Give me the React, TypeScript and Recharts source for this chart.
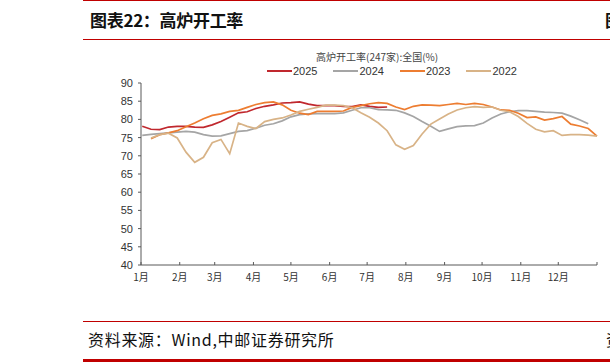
import React from 'react';
import { LineChart, Line, XAxis, YAxis } from 'recharts';

// weekly observations, one point per week (day-of-year of the week)
const weekDays = Array.from({ length: 53 }, (_, i) => 1 + 7 * i);

const monthTicks = [0, 31, 59, 90, 120, 151, 181, 212, 243, 273, 304, 334, 365];
const monthLabels = ['1月', '2月', '3月', '4月', '5月', '6月', '7月', '8月', '9月', '10月', '11月', '12月', ''];
const yTicks = [40, 45, 50, 55, 60, 65, 70, 75, 80, 85, 90];

const rate2025 = [
  78.1, 77.3, 77.2, 77.9, 78.1, 78.1, 77.9, 77.8, 78.5, 79.4,
  80.6, 81.8, 82.1, 83.0, 83.6, 84.0, 84.5, 84.6, 84.8, 84.2,
  83.8, 83.8, 83.8, 83.6, 83.5, 84.0, 83.6, 83.3, 83.4,
];
const rate2024 = [
  75.6, 75.9, 76.1, 76.3, 76.5, 76.7, 76.5, 75.8, 75.4, 75.5,
  76.1, 76.7, 76.9, 77.6, 78.4, 78.8, 79.6, 80.7, 81.3, 81.5,
  81.6, 81.6, 81.6, 81.8, 82.5, 83.2, 83.2, 82.7, 82.6, 82.5,
  81.8, 80.8, 79.4, 78.1, 76.7, 77.4, 78.0, 78.2, 78.3, 79.0,
  80.4, 81.5, 82.1, 82.4, 82.4, 82.2, 82.0, 81.9, 81.7, 80.9,
  79.9, 78.8, null,
];
const rate2023 = [
  null, 74.7, 75.8, 76.3, 76.9, 78.0, 79.0, 80.2, 81.1, 81.5,
  82.2, 82.5, 83.3, 84.1, 84.6, 84.8, 84.0, 82.5, 81.7, 81.3,
  82.2, 82.2, 82.2, 82.3, 83.3, 83.8, 84.3, 84.6, 84.4, 83.4,
  82.7, 83.6, 84.0, 83.9, 83.8, 84.1, 84.4, 84.1, 84.4, 84.1,
  83.4, 82.6, 82.5, 81.7, 80.5, 80.7, 79.8, 80.2, 80.8, 78.7,
  78.2, 77.5, 75.4,
];
const rate2022 = [
  null, 74.9, 75.8, 76.2, 74.9, 71.0, 68.2, 69.6, 73.6, 74.5,
  70.6, 79.0, 78.1, 77.5, 79.4, 80.0, 80.4, 81.2, 82.2, 82.8,
  83.3, 83.9, 83.9, 83.8, 83.2, 81.8, 80.6, 79.0, 76.9, 73.0,
  71.8, 72.8, 76.0, 78.7, 80.1, 81.5, 82.6, 83.2, 83.5, 83.3,
  83.4, 82.5, 82.1, 80.8, 78.9, 77.3, 76.6, 76.9, 75.6, 75.8,
  75.8, 75.7, 75.4,
];

const series = [
  { key: 'y2025', name: '2025', values: rate2025, color: '#C0282E' },
  { key: 'y2024', name: '2024', values: rate2024, color: '#A5A5A5' },
  { key: 'y2023', name: '2023', values: rate2023, color: '#ED7D31' },
  { key: 'y2022', name: '2022', values: rate2022, color: '#D8B387' },
];

const chartData = weekDays.map((day, i) => {
  const row: Record<string, number | null> = { day };
  series.forEach(s => {
    row[s.key] = s.values[i] ?? null;
  });
  return row;
});

const axisColor = '#595959';
const RED = '#C00000';

const MonthTick = (props: any) => {
  const { x, y, payload } = props;
  const idx = monthTicks.indexOf(payload.value);
  return (
    <g>
      <line x1={x} x2={x} y1={y} y2={y - 3} stroke={axisColor} strokeWidth={1} />
      <text x={x} y={y + 16} textAnchor="middle" fontSize={10} fill="#333" fontFamily="'Noto Sans CJK SC', Arial">
        {monthLabels[idx]}
      </text>
    </g>
  );
};

export default function App() {
  return (
    <div
      style={{
        position: 'fixed',
        left: 0,
        top: 0,
        width: 610,
        height: 363,
        overflow: 'hidden',
        background: '#fff',
        fontFamily: "'Liberation Sans', Arial, sans-serif",
      }}
    >
      {/* header */}
      <div style={{ position: 'absolute', left: 83, top: 0, width: 527, height: 1, background: RED }} />
      <div
        style={{
          position: 'absolute',
          left: 90,
          top: 10,
          fontSize: 17,
          lineHeight: '20px',
          fontWeight: 700,
          letterSpacing: -0.3,
          fontFamily: "'Noto Sans CJK SC', sans-serif",
          color: '#111',
          whiteSpace: 'nowrap',
        }}
      >
        图表22：高炉开工率
      </div>
      <div
        style={{
          position: 'absolute',
          left: 605,
          top: 10,
          fontSize: 17,
          lineHeight: '20px',
          fontWeight: 700,
          fontFamily: "'Noto Sans CJK SC', sans-serif",
          color: '#111',
        }}
      >
        图
      </div>
      <div style={{ position: 'absolute', left: 83, top: 39, width: 527, height: 1, background: RED }} />

      {/* chart title */}
      <div
        style={{
          position: 'absolute',
          left: 316,
          top: 50,
          fontSize: 10,
          lineHeight: '13px',
          color: '#444',
          fontFamily: "'Noto Sans CJK SC', sans-serif",
          whiteSpace: 'nowrap',
        }}
      >
        高炉开工率(247家):全国(%)
      </div>

      {/* legend */}
      <div
        style={{
          position: 'absolute',
          left: 267,
          top: 64,
          display: 'flex',
          gap: 16,
          fontSize: 11,
          lineHeight: '14px',
          color: '#333',
        }}
      >
        {series.map(s => (
          <div key={s.key} style={{ display: 'flex', alignItems: 'center' }}>
            <div style={{ width: 25, height: 2, background: s.color, marginRight: 1 }} />
            <span>{s.name}</span>
          </div>
        ))}
      </div>

      <div style={{ position: 'absolute', left: 0, top: 0 }}>
        <LineChart
          width={610}
          height={300}
          data={chartData}
          margin={{ top: 83, right: 13, left: 0, bottom: 0 }}
        >
          <XAxis
            dataKey="day"
            type="number"
            domain={[0, 365]}
            ticks={monthTicks}
            interval={0}
            height={35}
            tickLine={false}
            tickSize={0}
            tickMargin={0}
            tick={<MonthTick />}
            axisLine={{ stroke: axisColor }}
          />
          <YAxis
            width={141}
            domain={[40, 90]}
            ticks={yTicks}
            interval={0}
            tickSize={3}
            tickMargin={5}
            tick={{ fontSize: 11, fill: '#333' }}
            axisLine={{ stroke: axisColor }}
            tickLine={{ stroke: axisColor }}
          />
          {series.map(s => (
            <Line
              key={s.key}
              dataKey={s.key}
              name={s.name}
              type="linear"
              stroke={s.color}
              strokeWidth={1.7}
              dot={false}
              activeDot={false}
              isAnimationActive={false}
            />
          ))}
        </LineChart>
      </div>

      {/* footer */}
      <div style={{ position: 'absolute', left: 83, top: 321, width: 527, height: 1, background: RED }} />
      <div
        style={{
          position: 'absolute',
          left: 88,
          top: 330,
          fontSize: 16,
          lineHeight: '19px',
          letterSpacing: 0.7,
          fontFamily: "'Noto Sans CJK SC', sans-serif",
          color: '#111',
          whiteSpace: 'nowrap',
        }}
      >
        资料来源：Wind,中邮证券研究所
      </div>
      <div
        style={{
          position: 'absolute',
          left: 606,
          top: 330,
          fontSize: 16,
          lineHeight: '19px',
          fontFamily: "'Noto Sans CJK SC', sans-serif",
          color: '#111',
        }}
      >
        资
      </div>
      <div style={{ position: 'absolute', left: 83, top: 359, width: 527, height: 3, background: RED }} />
    </div>
  );
}
